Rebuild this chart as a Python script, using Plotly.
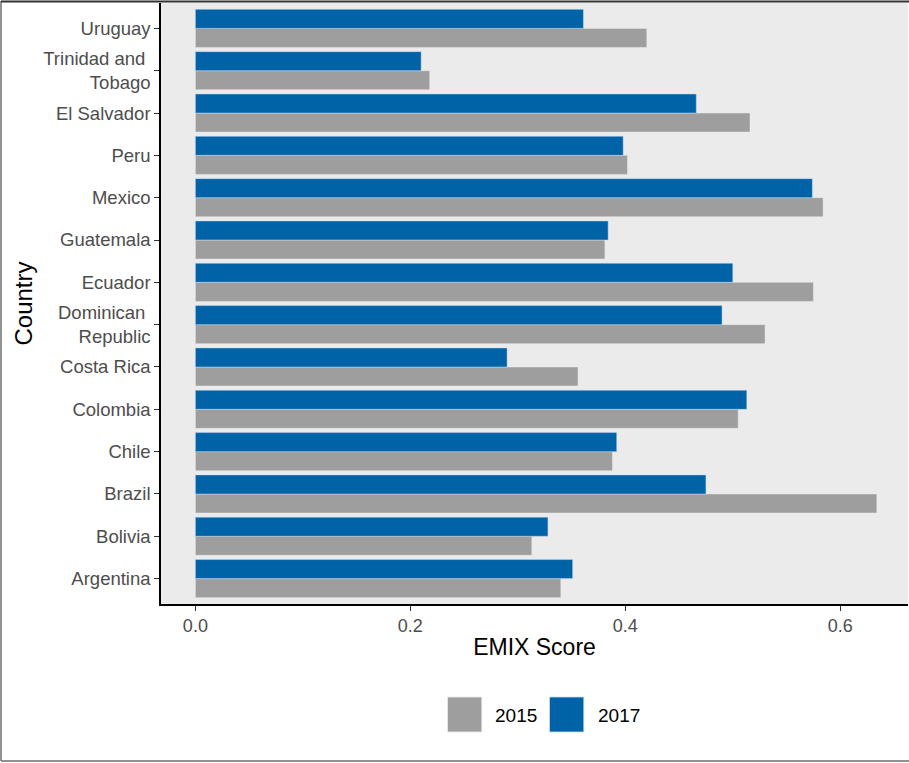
import plotly.graph_objects as go

countries = ["Argentina", "Bolivia", "Brazil", "Chile", "Colombia", "Costa Rica",
             "Dominican Republic", "Ecuador", "Guatemala", "Mexico", "Peru",
             "El Salvador", "Trinidad and Tobago", "Uruguay"]
country_labels = ["Argentina", "Bolivia", "Brazil", "Chile", "Colombia", "Costa Rica",
                  "Dominican\u00a0<br>Republic", "Ecuador", "Guatemala", "Mexico", "Peru",
                  "El Salvador", "Trinidad and\u00a0<br>Tobago", "Uruguay"]
emix_2015 = [0.340, 0.313, 0.634, 0.388, 0.505, 0.356, 0.530, 0.575, 0.381, 0.584,
             0.402, 0.516, 0.218, 0.420]
emix_2017 = [0.351, 0.328, 0.475, 0.392, 0.513, 0.290, 0.490, 0.500, 0.384, 0.574,
             0.398, 0.466, 0.210, 0.361]
years = ["2015", "2017"]
x_tickvals = [0.0, 0.2, 0.4, 0.6]
x_ticktext = ["0.0", "0.2", "0.4", "0.6"]

GRAY = "#9E9E9E"
BLUE = "#0063A8"
FONT = "Liberation Sans, Arial, sans-serif"

fig = go.Figure()
fig.add_trace(go.Bar(y=countries, x=emix_2015, orientation="h", name=years[0],
                     marker=dict(color=GRAY, line=dict(color="rgba(235,235,235,0.6)", width=0.8)),
                     showlegend=False))
fig.add_trace(go.Bar(y=countries, x=emix_2017, orientation="h", name=years[1],
                     marker=dict(color=BLUE, line=dict(color="rgba(200,220,240,0.6)", width=0.8)),
                     showlegend=False))

W, H = 909, 763
L, R, T, B = 161, 1, 3, 159
pw, ph = W - L - R, H - T - B


def px(x):
    return (x - L) / pw


def py(y):
    return (H - B - y) / ph


shapes = []
# outer border
shapes.append(dict(type="line", xref="paper", yref="paper", x0=px(1), x1=px(1), y0=py(1), y1=py(761),
                   line=dict(color="#6E6E6E", width=1.5)))
shapes.append(dict(type="line", xref="paper", yref="paper", x0=px(1), x1=px(909), y0=py(761), y1=py(761),
                   line=dict(color="#6E6E6E", width=1.5)))
shapes.append(dict(type="line", xref="paper", yref="paper", x0=px(1), x1=px(909), y0=py(1.5), y1=py(1.5),
                   line=dict(color="#333333", width=2)))
# legend keys
shapes.append(dict(type="rect", xref="paper", yref="paper", x0=px(447.5), x1=px(481.8), y0=py(697), y1=py(732),
                   fillcolor=GRAY, line=dict(color="rgba(235,235,235,0.8)", width=1)))
shapes.append(dict(type="rect", xref="paper", yref="paper", x0=px(549.5), x1=px(583.8), y0=py(697), y1=py(732),
                   fillcolor=BLUE, line=dict(color="rgba(200,220,240,0.8)", width=1)))

annotations = [
    dict(text=years[0], xref="paper", yref="paper", x=px(493), y=py(715), xanchor="left", yanchor="middle",
         showarrow=False, font=dict(family=FONT, size=19, color="#000000")),
    dict(text=years[1], xref="paper", yref="paper", x=px(596), y=py(715), xanchor="left", yanchor="middle",
         showarrow=False, font=dict(family=FONT, size=19, color="#000000")),
]

fig.update_layout(
    width=W, height=H,
    margin=dict(l=L, r=R, t=T, b=B, pad=0),
    paper_bgcolor="white",
    plot_bgcolor="#EBEBEB",
    barmode="group", bargap=0.1, bargroupgap=0.0,
    font=dict(family=FONT, size=18, color="#4D4D4D"),
    shapes=shapes,
    annotations=annotations,
    xaxis=dict(range=[-0.032, 0.663], tickvals=x_tickvals, ticktext=x_ticktext,
               showgrid=False, zeroline=False, showline=True, linecolor="#000000", linewidth=1.5,
               ticks="outside", ticklen=5, tickwidth=1.2, tickcolor="#333333",
               tickfont=dict(family=FONT, size=18, color="#4D4D4D"),
               title=dict(text="EMIX Score", font=dict(family=FONT, size=23, color="#000000"), standoff=4)),
    yaxis=dict(type="category", range=[-0.6, 13.6], tickvals=countries, ticktext=country_labels,
               showgrid=False, zeroline=False, showline=True, linecolor="#000000", linewidth=1.5,
               ticks="outside", ticklen=5, tickwidth=1.2, tickcolor="#333333",
               tickfont=dict(family=FONT, size=18.5, color="#4D4D4D"),
               title=dict(text="Country", font=dict(family=FONT, size=24, color="#000000"), standoff=4)),
)

fig.write_html("out.html", config={"displayModeBar": False})

# remove the default page margin so the figure sits at the window's top-left corner
with open("out.html", "r", encoding="utf-8") as f:
    html = f.read()
html = html.replace("<body>", '<body style="margin:0;padding:0;overflow:hidden">', 1)
with open("out.html", "w", encoding="utf-8") as f:
    f.write(html)
